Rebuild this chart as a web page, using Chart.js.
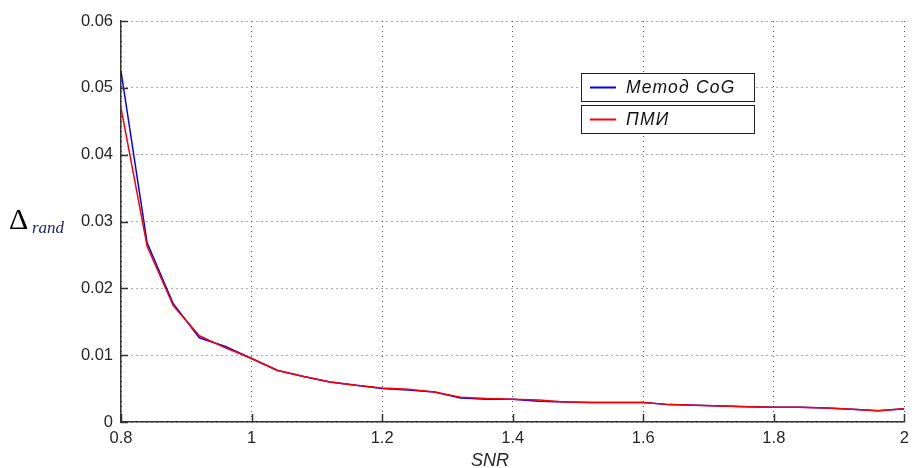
<!DOCTYPE html>
<html>
<head>
<meta charset="utf-8">
<script src="https://cdn.jsdelivr.net/npm/chart.js@4/dist/chart.umd.min.js"></script>
<style>
  html, body { margin: 0; padding: 0; background: #fff; }
  canvas { display: block; }
</style>
</head>
<body>
<canvas id="chart" width="916" height="468"></canvas>
<script>
// SNR values (x axis)
const snr = [0.80, 0.84, 0.88, 0.92, 0.96, 1.00, 1.04, 1.08, 1.12, 1.16, 1.20,
  1.24, 1.28, 1.32, 1.36, 1.40, 1.44, 1.48, 1.52, 1.56, 1.60,
  1.64, 1.68, 1.72, 1.76, 1.80, 1.84, 1.88, 1.92, 1.96, 2.00];

// Метод CoG (blue)
const cogValues = [0.0525, 0.0268, 0.0177, 0.0126, 0.0113, 0.0095, 0.0077, 0.0068, 0.0060, 0.0055, 0.0050,
  0.0048, 0.0045, 0.0036, 0.0034, 0.0034, 0.0031, 0.0030, 0.0029, 0.0029, 0.0029,
  0.0026, 0.0025, 0.0024, 0.0023, 0.0022, 0.0022, 0.0021, 0.0019, 0.0017, 0.0020];

// ПМИ (red)
const pmiValues = [0.0470, 0.0263, 0.0174, 0.0129, 0.0111, 0.0095, 0.0077, 0.0068, 0.0060, 0.0055, 0.0051,
  0.0049, 0.0045, 0.0037, 0.0035, 0.0034, 0.0033, 0.0030, 0.0029, 0.0029, 0.0029,
  0.0026, 0.0025, 0.0024, 0.0023, 0.0022, 0.0022, 0.0021, 0.0019, 0.0017, 0.0020];

const seriesNames = ['Метод CoG', 'ПМИ'];
const xTicks = [0.8, 1, 1.2, 1.4, 1.6, 1.8, 2];
const xTickLabels = ['0.8', '1', '1.2', '1.4', '1.6', '1.8', '2'];
const yTicks = [0, 0.01, 0.02, 0.03, 0.04, 0.05, 0.06];
const yTickLabels = ['0', '0.01', '0.02', '0.03', '0.04', '0.05', '0.06'];

const axisColor = '#333';
const textColor = '#262626';
const tickFont = { family: '"Liberation Sans", Arial, sans-serif', size: 16.5 };

const toPoints = (vals) => vals.map((v, i) => ({ x: snr[i], y: v }));

// inward tick marks, legend boxes and axis titles (matlab style)
const matlabDecor = {
  id: 'matlabDecor',
  afterDraw(chart) {
    const { ctx, chartArea, scales } = chart;
    ctx.save();
    ctx.strokeStyle = axisColor;
    ctx.lineWidth = 1.5;
    ctx.beginPath();
    xTicks.forEach(v => {
      const px = Math.round(scales.x.getPixelForValue(v)) + 0.5;
      ctx.moveTo(px, chartArea.bottom);
      ctx.lineTo(px, chartArea.bottom - 8);
    });
    yTicks.forEach(v => {
      const py = Math.round(scales.y.getPixelForValue(v)) + 0.5;
      ctx.moveTo(chartArea.left, py);
      ctx.lineTo(chartArea.left + 7, py);
    });
    ctx.stroke();

    // legend: two stacked boxes
    const colors = chart.data.datasets.map(d => d.borderColor);
    const boxX = 581, boxW = 173, boxH = 28;
    const boxTops = [73, 105];
    ctx.font = 'italic 17.5px "Liberation Sans", Arial, sans-serif';
    ctx.textBaseline = 'middle';
    seriesNames.forEach((name, i) => {
      const top = boxTops[i];
      ctx.fillStyle = '#fff';
      ctx.fillRect(boxX, top, boxW, boxH);
      ctx.strokeStyle = '#222';
      ctx.lineWidth = 1;
      ctx.strokeRect(boxX + 0.5, top + 0.5, boxW, boxH);
      ctx.strokeStyle = colors[i];
      ctx.lineWidth = 2;
      ctx.beginPath();
      ctx.moveTo(590, top + 14.5);
      ctx.lineTo(616, top + 14.5);
      ctx.stroke();
      ctx.fillStyle = '#111';
      ctx.letterSpacing = '1.2px';
      ctx.fillText(name, 626, top + 15);
      ctx.letterSpacing = '0px';
    });

    // x title
    ctx.fillStyle = textColor;
    ctx.font = 'italic 18px "Liberation Sans", Arial, sans-serif';
    ctx.textAlign = 'center';
    ctx.textBaseline = 'alphabetic';
    ctx.fillText('SNR', 490, 466);

    // y title: Δ with subscript
    ctx.textAlign = 'left';
    ctx.fillStyle = '#000';
    ctx.font = '30px "Liberation Serif", "Times New Roman", serif';
    ctx.fillText('Δ', 9, 229);
    ctx.fillStyle = '#1c1c70';
    ctx.font = 'italic 17px "Liberation Serif", "Times New Roman", serif';
    ctx.fillText('rand', 32, 233);
    ctx.restore();
  }
};

new Chart(document.getElementById('chart'), {
  type: 'line',
  data: {
    datasets: [
      {
        label: seriesNames[0],
        data: toPoints(cogValues),
        borderColor: '#0000ff',
        borderWidth: 1.5,
        order: 2,
      },
      {
        label: seriesNames[1],
        data: toPoints(pmiValues),
        borderColor: '#ff0000',
        borderWidth: 1.5,
        order: 1,
      },
    ],
  },
  options: {
    responsive: false,
    animation: false,
    devicePixelRatio: 1,
    layout: { padding: { top: 21, right: 5, left: 0, bottom: 0 } },
    elements: { point: { radius: 0 }, line: { tension: 0, fill: false } },
    plugins: { legend: { display: false }, tooltip: { enabled: false } },
    scales: {
      x: {
        type: 'linear',
        min: 0.8,
        max: 2,
        afterBuildTicks: (scale) => { scale.ticks = xTicks.map(v => ({ value: v })); },
        afterFit: (scale) => { scale.height = 46; },
        ticks: {
          autoSkip: false,
          maxRotation: 0,
          padding: 7,
          color: textColor,
          font: tickFont,
          callback: (v) => xTickLabels[xTicks.indexOf(v)] ?? '',
        },
        grid: { color: '#555', lineWidth: 1, drawTicks: false },
        border: { display: true, color: axisColor, width: 1.5, dash: [1, 4] },
      },
      y: {
        type: 'linear',
        min: 0,
        max: 0.06,
        afterBuildTicks: (scale) => { scale.ticks = yTicks.map(v => ({ value: v })); },
        afterFit: (scale) => { scale.width = 121; },
        ticks: {
          padding: 8,
          color: textColor,
          font: tickFont,
          callback: (v) => yTickLabels[yTicks.indexOf(v)] ?? '',
        },
        grid: { color: '#555', lineWidth: 1, drawTicks: false },
        border: { display: true, color: axisColor, width: 1.5, dash: [1, 4] },
      },
    },
  },
  plugins: [matlabDecor],
});
</script>
</body>
</html>
